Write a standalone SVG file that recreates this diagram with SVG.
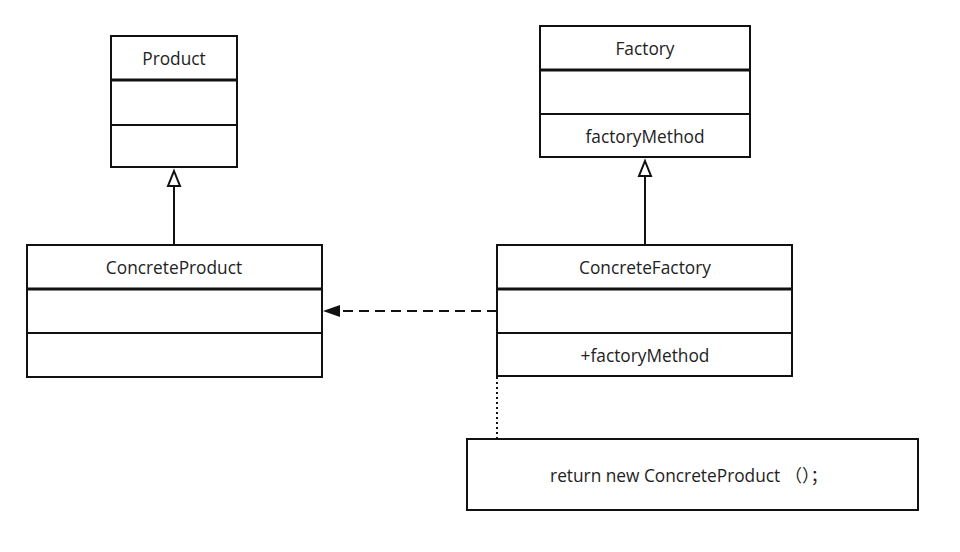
<svg xmlns="http://www.w3.org/2000/svg" width="960" height="552" viewBox="0 0 960 552">
<style>
.box{fill:#fff;stroke:#111;stroke-width:2}
.sep{stroke:#111;stroke-width:2}
.hsep{stroke:#111;stroke-width:3}
.lbl{font-family:"Open Sans","Noto Sans","Noto Sans CJK SC",sans-serif;font-size:17.3px;fill:#222;text-anchor:middle;dominant-baseline:central}
.edge{stroke:#111;stroke-width:2;fill:none}
.hollow{fill:#fff;stroke:#111;stroke-width:2;stroke-linejoin:miter}
</style>
<rect width="960" height="552" fill="#fff"/>
<g id="connectors">
<line class="edge" x1="174" y1="245" x2="174" y2="186"/>
<path class="hollow" d="M174,171 L180,186 L168,186 Z"/>
<line class="edge" x1="645" y1="245" x2="645" y2="176"/>
<path class="hollow" d="M645,161 L651,176 L639,176 Z"/>
<line class="edge" x1="497" y1="311" x2="340" y2="311" stroke-dasharray="10,6"/>
<path d="M323,311 L340,305 L340,317 Z" fill="#111"/>
<line class="edge" x1="497" y1="377" x2="497" y2="439" stroke-dasharray="2,3" stroke-width="1.5"/>
</g>
<g id="Product">
<rect class="box" x="111" y="36" width="126" height="131"/>
<line class="hsep" x1="111" y1="80" x2="237" y2="80"/>
<line class="sep" x1="111" y1="125" x2="237" y2="125"/>
<text class="lbl" x="174" y="58">Product</text>
</g>
<g id="Factory">
<rect class="box" x="540" y="26" width="210" height="131"/>
<line class="hsep" x1="540" y1="70" x2="750" y2="70"/>
<line class="sep" x1="540" y1="114" x2="750" y2="114"/>
<text class="lbl" x="645" y="48">Factory</text>
<text class="lbl" x="645" y="136">factoryMethod</text>
</g>
<g id="ConcreteProduct">
<rect class="box" x="27" y="245" width="295" height="132"/>
<line class="hsep" x1="27" y1="289" x2="322" y2="289"/>
<line class="sep" x1="27" y1="333" x2="322" y2="333"/>
<text class="lbl" x="174" y="267">ConcreteProduct</text>
</g>
<g id="ConcreteFactory">
<rect class="box" x="497" y="245" width="295" height="131"/>
<line class="hsep" x1="497" y1="289" x2="792" y2="289"/>
<line class="sep" x1="497" y1="333" x2="792" y2="333"/>
<text class="lbl" x="645" y="267">ConcreteFactory</text>
<text class="lbl" x="645" y="355">+factoryMethod</text>
</g>
<g id="Note">
<rect class="box" x="467" y="439" width="451" height="71"/>
<text class="lbl" x="689" y="475">return new ConcreteProduct （）；</text>
</g>
</svg>
